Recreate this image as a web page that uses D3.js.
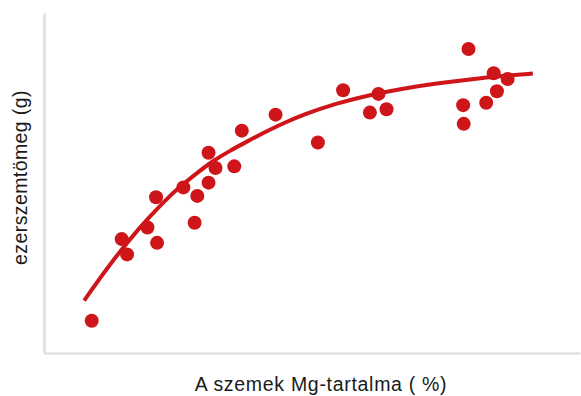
<!DOCTYPE html>
<html>
<head>
<meta charset="utf-8">
<script src="https://cdn.jsdelivr.net/npm/d3@7"></script>
<style>
html,body{margin:0;padding:0;background:#fff;}
svg{display:block;}
text{font-family:"Liberation Sans",Arial,Helvetica,sans-serif;fill:#1a1a1a;}
</style>
</head>
<body>
<script>
// Data (arbitrary units)
const pointX = [0.89,1.45,1.55,2.09,1.93,2.11,2.60,2.86,2.81,3.07,3.20,3.07,3.55,3.69,4.32,5.11,5.58,6.24,6.08,6.39,7.92,7.82,7.83,8.25,8.45,8.39,8.65];
const pointY = [0.95,3.35,2.90,4.58,3.69,3.24,4.87,4.62,3.83,5.89,5.44,5.01,5.49,6.54,7.01,6.19,7.73,7.62,7.07,7.17,8.94,7.29,6.74,7.36,7.70,8.23,8.06];
const curveX = [0.75,1.19,1.79,2.22,2.54,2.85,3.15,3.47,3.79,4.09,4.40,4.83,5.47,6.08,6.70,7.33,7.95,8.56,9.12];
const curveY = [1.54,2.54,3.71,4.43,4.90,5.29,5.65,5.95,6.22,6.47,6.71,7.01,7.35,7.59,7.78,7.93,8.05,8.15,8.22];
const xLabel = "A szemek Mg-tartalma ( %)";
const yLabel = "ezerszemtömeg (g)";

const W = 581, H = 396;
const red = "#cd151a";
const svg = d3.select("body").append("svg").attr("width", W).attr("height", H);

const x = d3.scaleLinear().domain([0, 10]).range([44, 580]);
const y = d3.scaleLinear().domain([0, 10]).range([353, 13]);

// axes (no ticks)
const xAxis = d3.axisBottom(x).tickValues([]).tickSizeOuter(0);
const yAxis = d3.axisLeft(y).tickValues([]).tickSizeOuter(0);
svg.append("g").attr("transform", `translate(0,${y(0)})`).call(xAxis)
  .select(".domain").attr("stroke", "#e0e0e0").attr("stroke-width", 2.6);
svg.append("g").attr("transform", `translate(${x(0)},0)`).call(yAxis)
  .select(".domain").attr("stroke", "#e0e0e0").attr("stroke-width", 2.6);

// trend curve
const curveData = curveX.map((v, i) => [v, curveY[i]]);
svg.append("path")
  .datum(curveData)
  .attr("fill", "none")
  .attr("stroke", red)
  .attr("stroke-width", 4)
  .attr("d", d3.line().x(d => x(d[0])).y(d => y(d[1])).curve(d3.curveBasis));

// points
const pts = pointX.map((v, i) => [v, pointY[i]]);
svg.append("g").selectAll("circle").data(pts).join("circle")
  .attr("cx", d => x(d[0]))
  .attr("cy", d => y(d[1]))
  .attr("r", 7)
  .attr("fill", red);

// labels
svg.append("text")
  .attr("x", 321).attr("y", 390.5)
  .attr("text-anchor", "middle")
  .attr("font-size", 19.5)
  .attr("letter-spacing", 0.7)
  .text(xLabel);
svg.append("text")
  .attr("transform", "translate(26.5,177.5) rotate(-90)")
  .attr("text-anchor", "middle")
  .attr("font-size", 19.5)
  .attr("letter-spacing", 0.4)
  .text(yLabel);
</script>
</body>
</html>
